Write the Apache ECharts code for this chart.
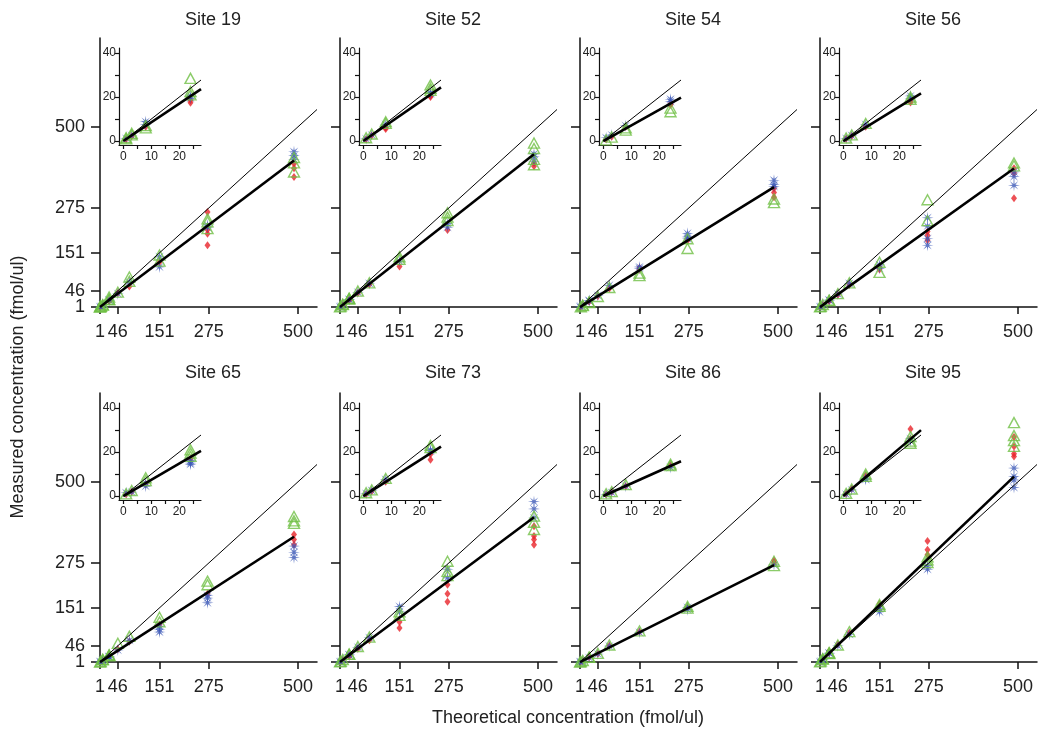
<!DOCTYPE html>
<html><head><meta charset="utf-8">
<script src="https://cdn.jsdelivr.net/npm/echarts@6/dist/echarts.min.js"></script>
<style>html,body{margin:0;padding:0;background:#fff}#c{width:1050px;height:743px}</style>
</head><body><div id="c"></div>
<script>
// ---------- DATA ----------
const siteNames = ['Site 19', 'Site 52', 'Site 54', 'Site 56', 'Site 65', 'Site 73', 'Site 86', 'Site 95'];
// theoretical concentrations (x) ; each colour array below lists replicate measured values per concentration
const conc = [1, 3, 8, 24, 46, 75, 151, 272, 490];
const mainTicks = [1, 46, 151, 275, 500];
const insetXTicks = [0, 5, 10, 15, 20, 25];
const insetXLabels = [0, 10, 20];
const insetYTicks = [0, 10, 20, 30, 40];
const insetYLabels = [0, 20, 40];

const site19Red   = [[0.8],[2.2],[6.5],[17.4,18.5],[40],[58],[125],[264,215,204,172],[398,385,361]];
const site19Blue  = [[1.2],[2.5],[8.8,7.5],[20.5,19.5],[38],[70],[140,112],[228,222],[431,420,410]];
const site19Green = [[1.5,1],[3.5,2.8],[6,7],[28.5,22.5,21],[42],[84,72],[145,128],[245,237,218],[415,400,375]];

const site52Red   = [[0.8],[2.5],[5.5,6],[20,20.5],[40],[63],[113],[214],[400,391]];
const site52Blue  = [[1],[2.8],[7.5],[22,21.5],[42],[66],[128],[232,222],[425,417,405]];
const site52Green = [[1.5],[3.2],[8.8,8],[25.5,24,23],[45],[68],[140,133],[262,250,240],[455,440,410,395]];

const site54Red   = [[0.8],[2],[6.5],[16.5,17],[31],[52],[110,104],[185],[330,318,305]];
const site54Blue  = [[1.5],[2.8],[7],[19,18],[33],[61],[112,108],[205,195,190],[352,340,335]];
const site54Green = [[0.5],[1.8],[6,5],[15,13.3],[30],[55],[95,88],[190,163],[300,290]];

const site56Red   = [[1],[2.3],[6.5],[17.5,18.5],[35],[62],[112,105],[210,200,186],[385,372,302]];
const site56Blue  = [[1.2],[2.5],[7.5],[20.5,19.5],[37],[66],[118,108],[248,225,190,172],[375,362,338]];
const site56Green = [[1.4],[2.8],[8],[20,19],[38],[68],[125,97],[298,240],[400,392]];

const site65Red   = [[0.8],[2],[5.5],[17],[36],[58],[105],[190],[354,340,326]];
const site65Blue  = [[1.5],[1.8],[6,4.5],[16,15,14.4],[34],[61],[100,92,84],[185,178,165],[322,305,290]];
const site65Green = [[1],[2.5],[8.3,7],[21,19.5,18],[53],[72],[125,112],[225,215],[404,392,385]];

const site73Red   = [[0.8],[2.2],[6.5],[19,16.5],[38],[61],[112,95],[215,190,168],[377,350,340,326]];
const site73Blue  = [[1.2],[2.5],[7.5],[21,20.5],[42],[68],[155,140],[258,234],[445,425,400]];
const site73Green = [[1.5],[2.8],[8],[23,22],[44],[70],[140,130],[280,252,240],[405,388,368]];

const site86Red   = [[0.7],[1.8],[4.5],[14],[24],[46],[85],[152],[282,275]];
const site86Blue  = [[0.8],[1.6],[4.5],[13],[23],[45],[83],[152,146],[270]];
const site86Green = [[1],[2],[5.2],[14.5,13.8],[25],[48],[87],[155,150],[280,268]];

const site95Red   = [[1],[3.3],[9.5],[30.5,26],[50],[82],[162],[336,312,298],[624,598,578,570]];
const site95Blue  = [[0.8],[2.8],[8,7.5],[26,25],[46],[78],[150,140],[268,258],[538,515,505,484]];
const site95Green = [[1.2],[3.2],[10,9],[27,25,24],[48],[85],[160,155],[292,284,276],[664,628,614,598]];

const mainSlopes  = [0.83, 0.865, 0.68, 0.785, 0.71, 0.82, 0.55, 1.05];
const insetSlopes = [0.85, 0.88, 0.71, 0.78, 0.74, 0.81, 0.57, 1.08];

const mainRangeX = [1, 548], mainRangeY = [1, 746];
const insetRangeX = [-1.54, 27.75], insetRangeY = [-1.8, 42.3];

// ---------- BUILD ----------
const reds   = [site19Red, site52Red, site54Red, site56Red, site65Red, site73Red, site86Red, site95Red];
const blues  = [site19Blue, site52Blue, site54Blue, site56Blue, site65Blue, site73Blue, site86Blue, site95Blue];
const greens = [site19Green, site52Green, site54Green, site56Green, site65Green, site73Green, site86Green, site95Green];

function pts(arr, maxX) {
  const out = [];
  arr.forEach((reps, i) => { if (conc[i] <= maxX) reps.forEach(v => out.push([conc[i], v])); });
  return out;
}
// asterisk symbol path
let ast = '';
for (let k = 0; k < 16; k++) {
  const a = -Math.PI / 2 + k * Math.PI / 8;
  const r = k % 2 === 0 ? 10 : 2.6;
  ast += (k === 0 ? 'M' : 'L') + (r * Math.cos(a)).toFixed(2) + ',' + (r * Math.sin(a)).toFixed(2);
}
ast = 'path://' + ast + 'Z';

const FONT = 'Liberation Sans, Arial, Helvetica, sans-serif';
const AX = '#111';
const RED = '#e8242a', BLUE = '#3b58b6', GREEN = '#6fbf45';

const grid = [], xAxis = [], yAxis = [], series = [], graphic = [];
const extraY = [];
for (let p = 0; p < 8; p++) {
  const r = Math.floor(p / 4), c = p % 4;
  const gl = 100 + 240 * c, gt = 38 + 355 * r;
  grid.push({left: gl, top: gt, width: 217, height: 269, outerBoundsMode: 'none'});
  grid.push({left: gl + 19, top: gt + 10, width: 82, height: 97, outerBoundsMode: 'none'});
  const mi = 2 * p, ii = 2 * p + 1;
  xAxis.push({gridIndex: mi, type: 'value', min: mainRangeX[0], max: mainRangeX[1],
    axisLine: {show: true, onZero: false, lineStyle: {color: AX, width: 1.5}},
    axisTick: {show: true, customValues: mainTicks, length: 7, lineStyle: {color: AX, width: 1.5}},
    axisLabel: {customValues: mainTicks, showMinLabel: true, showMaxLabel: true, hideOverlap: false,
      fontSize: 18, color: '#222', margin: 16, fontFamily: FONT},
    splitLine: {show: false}});
  yAxis.push({gridIndex: mi, type: 'value', position: 'left', min: mainRangeY[0], max: mainRangeY[1],
    axisLine: {show: true, onZero: false, lineStyle: {color: AX, width: 1.5}},
    axisTick: {show: true, customValues: mainTicks, length: 9, lineStyle: {color: AX, width: 1.5}},
    axisLabel: {show: c === 0, customValues: mainTicks.slice(1), showMinLabel: true, showMaxLabel: true, hideOverlap: false,
      fontSize: 18, color: '#222', margin: 15, fontFamily: FONT},
    splitLine: {show: false}});
  if (c === 0) {
    // separate label-only axis for the "1" label (avoids automatic overlap hiding of the 46 label)
    extraY.push({gridIndex: mi, type: 'value', position: 'left', offset: 0, min: mainRangeY[0], max: mainRangeY[1],
      axisLine: {show: false}, axisTick: {show: false}, splitLine: {show: false},
      axisLabel: {customValues: mainTicks.slice(0, 1), showMinLabel: true, fontSize: 18, color: '#222', margin: 15, fontFamily: FONT}});
  }
  xAxis.push({gridIndex: ii, type: 'value', min: insetRangeX[0], max: insetRangeX[1],
    axisLine: {show: true, onZero: false, lineStyle: {color: AX, width: 1.2}},
    axisTick: {show: true, customValues: insetXTicks, length: 4, lineStyle: {color: AX, width: 1.2}},
    axisLabel: {customValues: insetXLabels, showMinLabel: true, hideOverlap: false,
      fontSize: 12, color: '#222', margin: 6, fontFamily: FONT},
    splitLine: {show: false}});
  yAxis.push({gridIndex: ii, type: 'value', position: 'left', min: insetRangeY[0], max: insetRangeY[1],
    axisLine: {show: true, onZero: false, lineStyle: {color: AX, width: 1.2}},
    axisTick: {show: true, customValues: insetYTicks, length: 4, lineStyle: {color: AX, width: 1.2}},
    axisLabel: {customValues: insetYLabels, showMinLabel: true, hideOverlap: false,
      fontSize: 12, color: '#222', margin: 3, fontFamily: FONT},
    splitLine: {show: false}});

  [[mi, 1e9], [ii, insetRangeX[1]]].forEach(([ax, maxX]) => {
    series.push({type: 'scatter', xAxisIndex: ax, yAxisIndex: ax, data: pts(reds[p], maxX),
      symbol: 'diamond', symbolSize: [6, 8], itemStyle: {color: RED}, z: 2});
    series.push({type: 'scatter', xAxisIndex: ax, yAxisIndex: ax, data: pts(blues[p], maxX),
      symbol: ast, symbolSize: 12, itemStyle: {color: BLUE}, z: 2});
    series.push({type: 'scatter', xAxisIndex: ax, yAxisIndex: ax, data: pts(greens[p], maxX),
      symbol: 'triangle', symbolSize: [11, 10],
      itemStyle: {color: 'rgba(0,0,0,0)', borderColor: GREEN, borderWidth: 1.4}, z: 2});
  });
  // identity lines
  series.push({type: 'line', xAxisIndex: mi, yAxisIndex: mi, symbol: 'none', z: 3,
    data: [[mainRangeX[0], mainRangeX[0]], [mainRangeX[1], mainRangeX[1]]],
    lineStyle: {color: '#000', width: 1}});
  series.push({type: 'line', xAxisIndex: ii, yAxisIndex: ii, symbol: 'none', z: 3,
    data: [[0, 0], [insetRangeX[1], insetRangeX[1]]], lineStyle: {color: '#000', width: 1}});
  // regression lines
  const x0 = conc[0], x1 = conc[conc.length - 1];
  series.push({type: 'line', xAxisIndex: mi, yAxisIndex: mi, symbol: 'none', z: 4,
    data: [[x0, mainSlopes[p] * x0], [x1, mainSlopes[p] * x1]], lineStyle: {color: '#000', width: 2.6}});
  series.push({type: 'line', xAxisIndex: ii, yAxisIndex: ii, symbol: 'none', z: 4,
    data: [[0, 0], [insetRangeX[1], insetSlopes[p] * insetRangeX[1]]], lineStyle: {color: '#000', width: 2.6}});

  graphic.push({type: 'text', x: gl + 113, y: r === 0 ? 20 : 373,
    style: {text: siteNames[p], fontSize: 18, fontFamily: FONT, fill: '#222', align: 'center', verticalAlign: 'middle',
      textAlign: 'center', textVerticalAlign: 'middle'}});
}
extraY.forEach(a => yAxis.push(a));
graphic.push({type: 'text', x: 18, y: 387, rotation: Math.PI / 2,
  style: {text: 'Measured concentration (fmol/ul)', fontSize: 18, fontFamily: FONT, fill: '#222',
    align: 'center', verticalAlign: 'middle', textAlign: 'center', textVerticalAlign: 'middle'}});
graphic.push({type: 'text', x: 568, y: 718,
  style: {text: 'Theoretical concentration (fmol/ul)', fontSize: 18, fontFamily: FONT, fill: '#222',
    align: 'center', verticalAlign: 'middle', textAlign: 'center', textVerticalAlign: 'middle'}});

const chart = echarts.init(document.getElementById('c'), null, {renderer: 'canvas'});
chart.setOption({
  animation: false,
  backgroundColor: '#fff',
  textStyle: {fontFamily: FONT},
  grid, xAxis, yAxis, series, graphic
});
</script></body></html>
